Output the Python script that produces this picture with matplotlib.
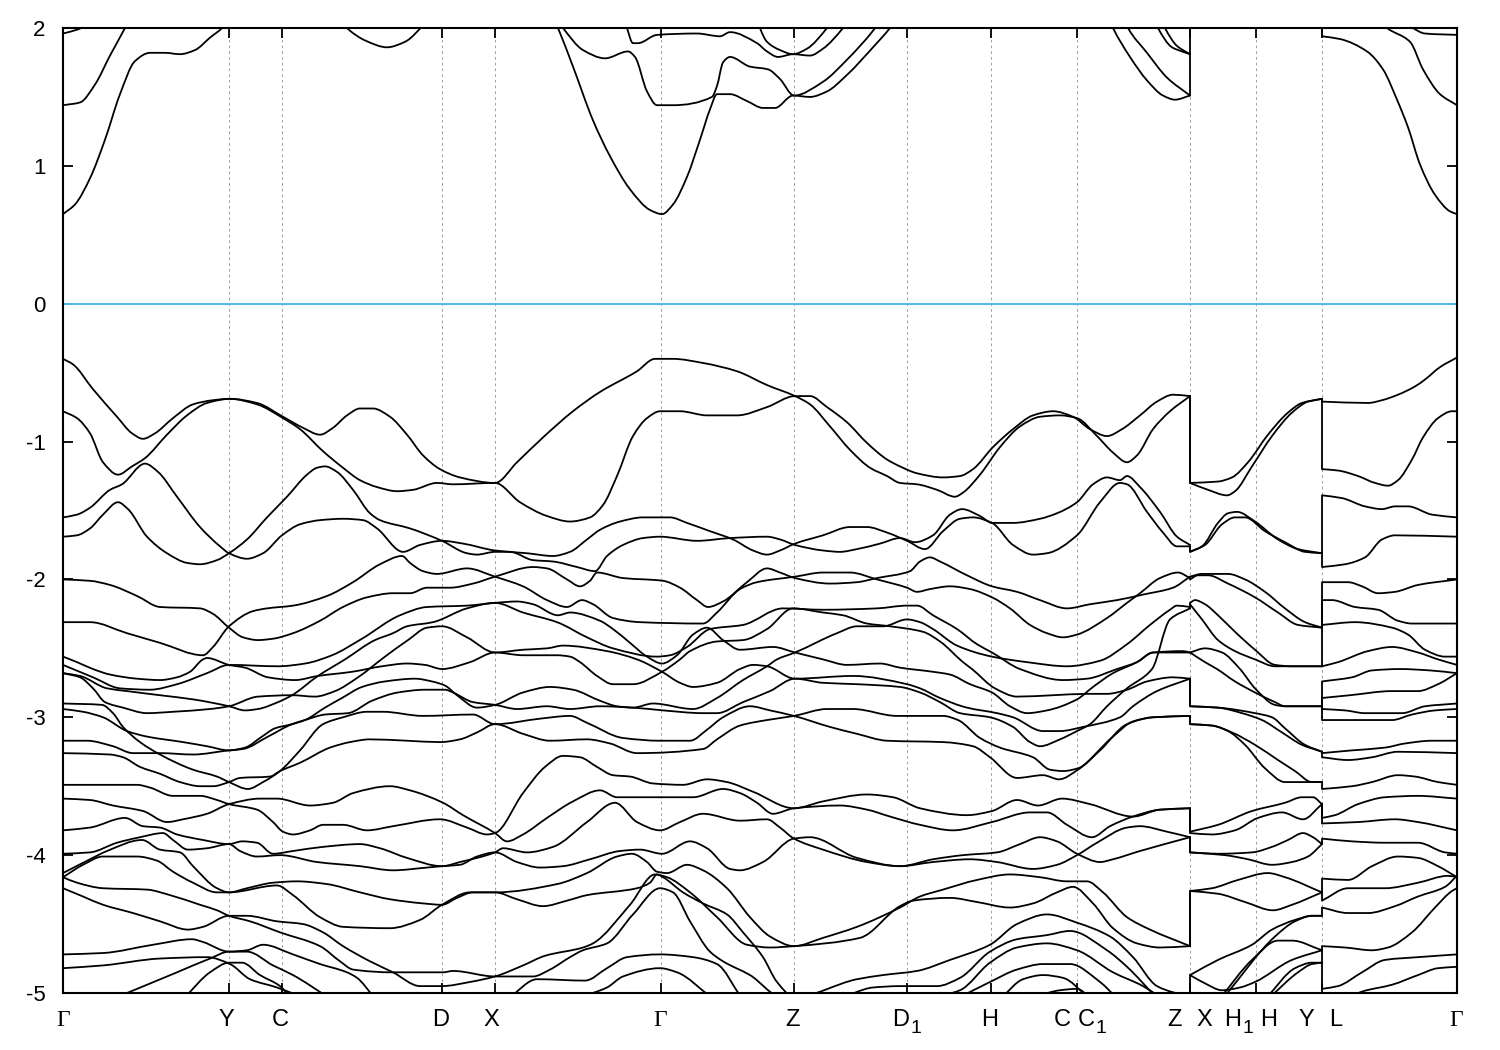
import numpy as np
import matplotlib
matplotlib.use("Agg")
import matplotlib.pyplot as plt
from matplotlib.path import Path
from matplotlib.patches import PathPatch

plt.rcParams['font.family'] = ['Liberation Sans', 'DejaVu Sans']
plt.rcParams['axes.unicode_minus'] = False

# path positions (k) of the high-symmetry points
k_ticks = [229, 282, 442, 495, 661, 794, 907, 991, 1077, 1190, 1256, 1322]
e_ticks = [-5, -4, -3, -2, -1, 0, 1, 2]
k_labels = ['Γ', 'Y', 'C', 'D', 'X', 'Γ', 'Z', 'D', 'H', 'C', 'C', 'Z', 'X', 'H', 'H', 'Y', 'L', 'Γ']
k_subs = ['', '', '', '', '', '', '', '1', '', '', '1', '', '', '1', '', '', '', '']
k_label_pos = [63, 226, 280, 441, 491, 660, 793, 901, 990, 1062, 1086, 1174, 1204, 1233, 1269, 1306, 1336, 1456]

# ---- conduction bands
c01 = [(63,.65),(75,.72),(90,.91),(105,1.19),(120,1.52),(135,1.76),(150,1.82),(165,1.82),(180,1.81),(195,1.84),(210,1.93),(222,2.0),(232,2.1)]
c02 = [(63,1.44),(80,1.46),(95,1.59),(110,1.80),(125,2.0),(132,2.1)]
c03 = [(63,1.96),(78,1.99),(90,2.03)]
c04 = [(340,2.05),(350,1.98),(365,1.91),(387,1.86),(405,1.90),(425,2.03)]
c05 = [(555,2.05),(558,2.0),(573,1.72),(593,1.33),(610,1.07),(630,.83),(650,.68),(662,.65),(673,.72),(687,.92),(700,1.19),(710,1.41),(717,1.52),(730,1.52),(747,1.47),(763,1.42),(775,1.42),(793,1.51),(810,1.50),(827,1.54),(847,1.66),(873,1.86),(890,2.0),(897,2.07)]
c06 = [(558,2.05),(563,2.0),(583,1.84),(605,1.78),(628,1.83),(635,1.79),(647,1.54),(657,1.44),(673,1.44),(712,1.50),(717,1.58),(723,1.75),(730,1.79),(750,1.72),(768,1.70),(780,1.63),(794,1.51),(823,1.61),(847,1.77),(873,1.98),(880,2.05)]
c07 = [(625,2.05),(627,2.0),(633,1.89),(638,1.89),(657,1.95),(697,1.96),(720,1.94),(730,1.97),(757,1.89),(767,1.83),(778,1.79),(793,1.81),(810,1.80),(823,1.85),(843,2.0),(848,2.05)]
c08 = [(758,2.05),(760,2.0),(767,1.90),(780,1.84),(793,1.81),(807,1.85),(827,2.0),(832,2.05)]
c09 = [(1110,2.05),(1113,2.0),(1130,1.79),(1147,1.62),(1163,1.51),(1175,1.48),(1190,1.51),(1190,2.1)]
c10 = [(1125,2.05),(1128,2.0),(1147,1.82),(1167,1.64),(1190,1.51)]
c11 = [(1155,2.05),(1158,2.0),(1172,1.86),(1182,1.83),(1190,1.81)]
c12 = [(1162,2.05),(1165,2.0),(1177,1.87),(1190,1.81)]
c13 = [(1322,2.1),(1322,1.94),(1340,1.92),(1367,1.83),(1383,1.70),(1397,1.48),(1408,1.28),(1420,1.01),(1435,.79),(1450,.67),(1457,.65)]
c14 = [(1380,2.05),(1387,2.0),(1410,1.90),(1423,1.70),(1440,1.52),(1457,1.44)]
c15 = [(1405,2.05),(1413,2.0),(1425,1.96),(1457,1.95)]

# ---- valence bands, Γ-Y-C-D-X-Γ-Z-D1-H-C-C1-Z
v01 = [(63,-.40),(73,-.44),(93,-.62),(117,-.82),(132,-.94),(143,-.98),(155,-.94),(173,-.83),(193,-.73),(213,-.70),(230,-.69),(257,-.72),(283,-.82),(303,-.90),(320,-.95),(333,-.90),(347,-.81),(360,-.76),(373,-.76),(390,-.82),(407,-.95),(423,-1.10),(440,-1.20),(460,-1.26),(495,-1.30),(517,-1.15),(543,-.97),(573,-.78),(600,-.64),(637,-.49),(655,-.40),(673,-.40),(703,-.43),(737,-.49),(767,-.59),(795,-.67),(810,-.73),(830,-.89),(850,-1.06),(870,-1.19),(887,-1.25),(900,-1.30),(917,-1.31),(937,-1.35),(955,-1.40),(963,-1.37),(980,-1.24),(1000,-1.04),(1020,-.89),(1040,-.82),(1060,-.81),(1077,-.83),(1097,-.96),(1113,-1.08),(1127,-1.15),(1137,-1.10),(1153,-.91),(1170,-.78),(1190,-.67)]
v02 = [(63,-.78),(77,-.83),(90,-.94),(103,-1.15),(118,-1.24),(132,-1.18),(145,-1.12),(167,-.95),(187,-.81),(207,-.72),(230,-.69),(257,-.73),(283,-.83),(300,-.91),(323,-1.07),(343,-1.19),(360,-1.28),(377,-1.33),(397,-1.36),(413,-1.35),(437,-1.30),(453,-1.31),(495,-1.30),(520,-1.44),(547,-1.54),(570,-1.58),(590,-1.55),(603,-1.46),(617,-1.25),(633,-.96),(647,-.83),(660,-.78),(680,-.78),(707,-.81),(737,-.81),(767,-.75),(795,-.67),(810,-.67),(827,-.75),(847,-.86),(867,-1.01),(887,-1.13),(900,-1.18),(917,-1.23),(943,-1.26),(960,-1.25),(973,-1.20),(993,-1.04),(1013,-.91),(1033,-.81),(1053,-.78),(1073,-.82),(1090,-.91),(1107,-.96),(1122,-.91),(1140,-.81),(1157,-.71),(1173,-.66),(1190,-.67)]
v03 = [(63,-1.55),(77,-1.53),(90,-1.48),(110,-1.35),(122,-1.31),(145,-1.16),(158,-1.22),(177,-1.40),(200,-1.62),(220,-1.76),(229,-1.81),(247,-1.85),(263,-1.81),(282,-1.68),(300,-1.60),(320,-1.57),(343,-1.56),(363,-1.57),(377,-1.63),(403,-1.80),(420,-1.75),(442,-1.72),(463,-1.74),(495,-1.79),(527,-1.81),(553,-1.83),(570,-1.80),(587,-1.71),(600,-1.64),(620,-1.58),(643,-1.55),(670,-1.55),(687,-1.59),(710,-1.65),(733,-1.71),(753,-1.79),(767,-1.82),(780,-1.79),(795,-1.74),(823,-1.68),(850,-1.62),(867,-1.62),(887,-1.66),(907,-1.72),(925,-1.78),(943,-1.65),(960,-1.56),(973,-1.55),(992,-1.59),(1013,-1.75),(1033,-1.82),(1047,-1.81),(1077,-1.68),(1100,-1.44),(1120,-1.30),(1127,-1.31),(1147,-1.51),(1163,-1.66),(1177,-1.76),(1190,-1.76)]
v04 = [(63,-1.69),(77,-1.68),(90,-1.63),(103,-1.53),(118,-1.44),(128,-1.49),(147,-1.69),(167,-1.81),(187,-1.88),(200,-1.89),(217,-1.86),(229,-1.81),(247,-1.71),(267,-1.55),(287,-1.40),(307,-1.24),(317,-1.19),(325,-1.18),(337,-1.22),(353,-1.35),(370,-1.52),(380,-1.57),(410,-1.63),(442,-1.72),(467,-1.81),(477,-1.82),(495,-1.80),(510,-1.80),(533,-1.86),(553,-1.87),(577,-1.91),(595,-1.94),(607,-1.83),(623,-1.75),(643,-1.70),(660,-1.69),(697,-1.72),(730,-1.70),(767,-1.69),(780,-1.71),(795,-1.75),(823,-1.79),(840,-1.80),(857,-1.78),(880,-1.74),(900,-1.70),(915,-1.73),(933,-1.68),(950,-1.53),(962,-1.49),(980,-1.54),(992,-1.59),(1013,-1.59),(1040,-1.56),(1057,-1.52),(1077,-1.44),(1093,-1.31),(1107,-1.26),(1120,-1.28),(1127,-1.25),(1140,-1.33),(1160,-1.51),(1177,-1.69),(1190,-1.75)]
v05 = [(63,-2.00),(90,-2.01),(110,-2.04),(137,-2.12),(160,-2.20),(200,-2.21),(213,-2.25),(229,-2.35),(243,-2.42),(258,-2.44),(273,-2.43),(293,-2.39),(320,-2.30),(343,-2.20),(367,-2.13),(393,-2.10),(410,-2.10),(427,-2.06),(450,-2.06),(473,-2.03),(495,-1.98),(533,-1.91),(547,-1.92),(567,-2.00),(580,-2.05),(590,-2.01),(597,-1.95),(623,-1.99),(663,-2.01),(680,-2.06),(697,-2.15),(708,-2.20),(723,-2.16),(747,-2.02),(767,-1.92),(780,-1.95),(795,-1.99),(830,-2.03),(857,-2.02),(877,-1.99),(910,-1.94),(920,-1.87),(930,-1.84),(940,-1.87),(967,-1.97),(992,-2.05),(1017,-2.09),(1040,-2.15),(1067,-2.21),(1090,-2.18),(1117,-2.15),(1143,-2.11),(1173,-2.06),(1190,-1.98)]
v06 = [(63,-2.31),(90,-2.31),(127,-2.39),(160,-2.46),(203,-2.55),(213,-2.49),(229,-2.34),(253,-2.23),(267,-2.21),(293,-2.19),(327,-2.12),(353,-2.02),(380,-1.89),(402,-1.83),(410,-1.88),(423,-1.94),(437,-1.96),(467,-1.92),(495,-1.98),(523,-2.05),(547,-2.15),(567,-2.20),(582,-2.15),(593,-2.18),(613,-2.28),(640,-2.31),(703,-2.32),(717,-2.24),(740,-2.07),(757,-2.02),(795,-1.98),(823,-1.95),(850,-1.95),(877,-2.00),(907,-2.06),(917,-2.09),(930,-2.07),(950,-2.05),(970,-2.07),(992,-2.13),(1010,-2.21),(1030,-2.33),(1047,-2.39),(1063,-2.42),(1077,-2.40),(1107,-2.28),(1127,-2.17),(1140,-2.10),(1160,-1.99),(1178,-1.95),(1190,-1.99)]
v07 = [(63,-2.56),(77,-2.60),(93,-2.65),(110,-2.69),(137,-2.72),(160,-2.73),(177,-2.71),(190,-2.67),(203,-2.58),(207,-2.57),(229,-2.62),(245,-2.64),(268,-2.71),(295,-2.73),(318,-2.70),(352,-2.67),(382,-2.63),(407,-2.61),(425,-2.62),(442,-2.65),(470,-2.60),(495,-2.53),(523,-2.55),(557,-2.55),(570,-2.56),(580,-2.60),(597,-2.70),(613,-2.76),(633,-2.76),(662,-2.67),(680,-2.58),(690,-2.52),(717,-2.45),(743,-2.44),(767,-2.36),(793,-2.21),(823,-2.24),(843,-2.26),(867,-2.32),(890,-2.34),(923,-2.38),(940,-2.45),(963,-2.60),(972,-2.65),(995,-2.79),(1017,-2.85),(1053,-2.84),(1087,-2.83),(1107,-2.83),(1127,-2.80),(1147,-2.74),(1173,-2.71),(1190,-2.72)]
v08 = [(63,-2.62),(93,-2.71),(120,-2.79),(150,-2.80),(177,-2.76),(207,-2.68),(229,-2.62),(278,-2.63),(305,-2.61),(332,-2.55),(362,-2.43),(400,-2.26),(427,-2.20),(467,-2.19),(495,-2.17),(517,-2.16),(533,-2.18),(558,-2.26),(570,-2.24),(600,-2.30),(613,-2.36),(630,-2.46),(647,-2.56),(662,-2.61),(677,-2.55),(693,-2.40),(707,-2.35),(723,-2.44),(740,-2.51),(773,-2.49),(795,-2.53),(823,-2.58),(847,-2.62),(880,-2.61),(900,-2.64),(933,-2.67),(950,-2.69),(970,-2.76),(992,-2.82),(1010,-2.92),(1027,-2.97),(1047,-2.95),(1077,-2.87),(1093,-2.78),(1113,-2.68),(1137,-2.60),(1153,-2.53),(1183,-2.52),(1190,-2.53)]
v09 = [(63,-2.68),(80,-2.70),(107,-2.79),(127,-2.81),(160,-2.84),(193,-2.87),(229,-2.92),(245,-2.95),(258,-2.94),(278,-2.89),(292,-2.84),(318,-2.70),(345,-2.58),(375,-2.44),(393,-2.39),(407,-2.34),(433,-2.31),(467,-2.21),(495,-2.17),(523,-2.24),(557,-2.31),(587,-2.42),(613,-2.50),(657,-2.56),(670,-2.55),(687,-2.49),(710,-2.36),(743,-2.33),(783,-2.21),(823,-2.22),(877,-2.21),(907,-2.19),(917,-2.19),(933,-2.26),(957,-2.36),(977,-2.47),(992,-2.53),(1020,-2.65),(1063,-2.73),(1087,-2.72),(1117,-2.65),(1137,-2.60),(1153,-2.53),(1190,-2.53)]
v10 = [(63,-2.68),(80,-2.71),(93,-2.79),(105,-2.89),(123,-2.93),(147,-2.97),(173,-2.96),(210,-2.94),(229,-2.92),(258,-2.85),(292,-2.84),(315,-2.85),(335,-2.81),(358,-2.71),(385,-2.56),(408,-2.44),(427,-2.35),(442,-2.34),(467,-2.42),(495,-2.53),(523,-2.51),(547,-2.50),(563,-2.48),(607,-2.52),(637,-2.58),(662,-2.67),(680,-2.75),(693,-2.78),(717,-2.75),(740,-2.65),(753,-2.62),(767,-2.63),(795,-2.72),(853,-2.70),(907,-2.76),(920,-2.79),(940,-2.86),(967,-2.93),(997,-2.97),(1013,-3.00),(1043,-3.10),(1060,-3.10),(1083,-3.07),(1120,-3.00),(1133,-2.92),(1157,-2.81),(1190,-2.72)]
v11 = [(63,-2.94),(83,-2.96),(103,-3.00),(127,-3.10),(147,-3.14),(183,-3.18),(207,-3.21),(229,-3.24),(245,-3.22),(262,-3.14),(275,-3.08),(292,-3.05),(305,-3.02),(325,-2.93),(342,-2.86),(362,-2.78),(385,-2.74),(415,-2.72),(432,-2.74),(445,-2.77),(457,-2.84),(477,-2.93),(495,-2.91),(523,-2.82),(550,-2.78),(573,-2.80),(600,-2.88),(617,-2.92),(633,-2.93),(653,-2.90),(693,-2.94),(717,-2.86),(743,-2.73),(767,-2.63),(777,-2.58),(795,-2.53),(837,-2.39),(857,-2.34),(883,-2.34),(907,-2.29),(920,-2.31),(933,-2.36),(957,-2.48),(992,-2.56),(1027,-2.60),(1067,-2.63),(1100,-2.59),(1127,-2.47),(1150,-2.33),(1170,-2.22),(1177,-2.19),(1190,-2.20)]
v12 = [(63,-3.17),(87,-3.17),(113,-3.21),(133,-3.26),(160,-3.26),(193,-3.27),(229,-3.24),(243,-3.23),(268,-3.14),(292,-3.05),(305,-3.02),(325,-2.98),(348,-2.97),(372,-2.88),(398,-2.82),(425,-2.80),(445,-2.80),(453,-2.82),(473,-2.89),(495,-2.91),(517,-2.94),(547,-2.92),(570,-2.94),(600,-2.92),(633,-2.93),(663,-2.95),(703,-2.97),(717,-2.97),(743,-2.89),(770,-2.81),(795,-2.72),(823,-2.75),(857,-2.76),(900,-2.78),(920,-2.82),(940,-2.89),(960,-2.97),(990,-3.00),(1013,-3.07),(1030,-3.18),(1040,-3.21),(1060,-3.16),(1077,-3.10),(1090,-3.05),(1107,-2.92),(1127,-2.79),(1152,-2.65),(1170,-2.29),(1190,-2.21)]
v13 = [(63,-2.90),(102,-2.91),(113,-2.97),(123,-3.07),(140,-3.18),(160,-3.27),(193,-3.38),(217,-3.43),(229,-3.47),(248,-3.52),(263,-3.47),(280,-3.39),(300,-3.24),(323,-3.05),(343,-3.00),(367,-2.96),(383,-2.96),(423,-2.99),(473,-2.98),(495,-3.05),(540,-3.01),(570,-2.99),(587,-3.04),(623,-3.15),(660,-3.17),(690,-3.17),(707,-3.09),(723,-3.00),(750,-2.92),(770,-2.95),(794,-2.99),(830,-3.07),(857,-3.12),(887,-3.17),(943,-3.18),(973,-3.21),(990,-3.29),(1017,-3.44),(1043,-3.42),(1059,-3.45),(1078,-3.38),(1113,-3.14),(1133,-3.03),(1153,-3.00),(1190,-2.99)]
v14 = [(63,-3.26),(110,-3.27),(123,-3.29),(140,-3.36),(160,-3.41),(180,-3.47),(200,-3.50),(213,-3.50),(229,-3.47),(240,-3.44),(270,-3.43),(280,-3.39),(300,-3.33),(330,-3.22),(350,-3.18),(370,-3.16),(407,-3.17),(440,-3.18),(460,-3.16),(477,-3.11),(495,-3.05),(523,-3.12),(550,-3.17),(587,-3.16),(610,-3.19),(637,-3.26),(703,-3.23),(717,-3.16),(740,-3.06),(767,-3.02),(794,-2.99),(827,-2.94),(853,-2.94),(897,-2.99),(943,-2.99),(958,-3.02),(980,-3.15),(1000,-3.22),(1033,-3.29),(1050,-3.38),(1063,-3.39),(1078,-3.37),(1100,-3.24),(1127,-3.05),(1153,-3.00),(1190,-2.99)]
v15 = [(63,-3.49),(137,-3.49),(150,-3.51),(173,-3.57),(200,-3.57),(217,-3.60),(229,-3.63),(257,-3.67),(273,-3.76),(283,-3.83),(293,-3.85),(310,-3.82),(323,-3.78),(343,-3.78),(367,-3.82),(393,-3.79),(440,-3.74),(467,-3.80),(487,-3.85),(495,-3.84),(523,-3.55),(545,-3.36),(563,-3.28),(580,-3.29),(597,-3.36),(613,-3.42),(630,-3.43),(653,-3.48),(683,-3.49),(707,-3.45),(727,-3.47),(753,-3.54),(794,-3.66),(823,-3.61),(867,-3.56),(893,-3.58),(920,-3.66),(967,-3.71),(992,-3.68),(1017,-3.60),(1038,-3.64),(1062,-3.59),(1090,-3.63),(1133,-3.72),(1160,-3.67),(1190,-3.66)]
v16 = [(63,-3.59),(90,-3.60),(113,-3.64),(143,-3.68),(167,-3.76),(183,-3.74),(207,-3.70),(229,-3.63),(260,-3.59),(277,-3.59),(310,-3.64),(333,-3.62),(353,-3.55),(390,-3.50),(410,-3.53),(443,-3.62),(463,-3.71),(495,-3.84),(507,-3.90),(523,-3.85),(547,-3.73),(573,-3.61),(600,-3.53),(617,-3.58),(660,-3.58),(693,-3.58),(723,-3.52),(740,-3.55),(757,-3.62),(773,-3.70),(794,-3.66),(840,-3.64),(867,-3.67),(890,-3.72),(920,-3.78),(953,-3.82),(992,-3.76),(1030,-3.69),(1047,-3.69),(1067,-3.78),(1092,-3.87),(1110,-3.79),(1133,-3.72),(1160,-3.67),(1190,-3.66)]
v17 = [(63,-3.82),(90,-3.80),(125,-3.73),(143,-3.79),(160,-3.80),(177,-3.85),(203,-3.89),(229,-3.92),(242,-3.90),(257,-3.91),(273,-3.99),(293,-3.97),(323,-3.94),(360,-3.92),(380,-3.95),(407,-4.02),(442,-4.08),(460,-4.05),(495,-3.98),(503,-3.95),(527,-3.98),(553,-3.94),(587,-3.76),(615,-3.62),(637,-3.76),(660,-3.82),(680,-3.76),(703,-3.70),(740,-3.75),(767,-3.74),(780,-3.80),(794,-3.88),(823,-3.96),(867,-4.05),(900,-4.08),(933,-4.03),(963,-4.00),(997,-3.98),(1020,-3.92),(1040,-3.87),(1057,-3.90),(1077,-3.99),(1100,-4.05),(1113,-4.03),(1140,-3.97),(1190,-3.87)]
v18 = [(63,-3.99),(90,-3.98),(117,-3.91),(140,-3.87),(163,-3.84),(173,-3.89),(188,-3.96),(207,-3.95),(229,-3.92),(240,-3.97),(257,-4.01),(280,-4.00),(317,-4.05),(360,-4.08),(393,-4.11),(427,-4.09),(442,-4.08),(460,-4.07),(477,-4.01),(495,-3.98),(517,-4.05),(540,-4.09),(563,-4.08),(590,-4.03),(620,-3.97),(640,-3.96),(662,-3.99),(690,-3.90),(707,-3.95),(730,-4.10),(740,-4.11),(763,-4.05),(794,-3.88),(810,-3.87),(857,-4.02),(900,-4.08),(933,-4.05),(970,-4.03),(997,-4.05),(1033,-4.10),(1057,-4.07),(1077,-4.00),(1097,-3.91),(1127,-3.80),(1140,-3.79),(1167,-3.83),(1190,-3.87)]
v19 = [(63,-4.13),(90,-4.03),(107,-3.97),(142,-3.89),(160,-3.96),(180,-3.98),(193,-4.08),(217,-4.24),(229,-4.27),(247,-4.24),(273,-4.20),(297,-4.19),(327,-4.21),(360,-4.27),(390,-4.32),(423,-4.35),(442,-4.36),(457,-4.31),(473,-4.27),(495,-4.27),(557,-4.21),(587,-4.13),(617,-4.01),(632,-3.99),(647,-4.05),(657,-4.12),(667,-4.13),(687,-4.07),(703,-4.11),(727,-4.24),(750,-4.45),(770,-4.59),(794,-4.66),(823,-4.60),(857,-4.52),(900,-4.38),(920,-4.30),(943,-4.25),(977,-4.18),(1010,-4.14),(1040,-4.16),(1067,-4.19),(1087,-4.19),(1103,-4.27),(1127,-4.45),(1150,-4.54),(1190,-4.66)]
v20 = [(63,-4.16),(83,-4.07),(103,-4.01),(137,-4.01),(157,-4.04),(173,-4.12),(193,-4.20),(217,-4.27),(229,-4.27),(277,-4.22),(293,-4.29),(320,-4.45),(343,-4.52),(390,-4.53),(420,-4.47),(442,-4.36),(470,-4.27),(495,-4.27),(517,-4.32),(543,-4.37),(567,-4.33),(587,-4.29),(637,-4.24),(650,-4.20),(657,-4.14),(663,-4.16),(683,-4.27),(703,-4.35),(727,-4.43),(743,-4.56),(763,-4.74),(777,-4.92),(794,-5.03),(857,-4.90),(883,-4.87),(917,-4.84),(950,-4.76),(990,-4.65),(1017,-4.50),(1047,-4.43),(1077,-4.49),(1110,-4.59),(1133,-4.74),(1157,-4.95),(1190,-5.03)]
v21 = [(63,-4.24),(83,-4.30),(103,-4.36),(133,-4.42),(160,-4.48),(188,-4.54),(203,-4.52),(229,-4.44),(247,-4.44),(277,-4.48),(303,-4.50),(323,-4.56),(343,-4.66),(370,-4.77),(393,-4.85),(420,-4.95),(442,-4.95),(470,-4.92),(495,-4.88),(523,-4.80),(545,-4.73),(583,-4.67),(593,-4.64),(630,-4.36),(655,-4.14),(667,-4.16),(690,-4.27),(717,-4.45),(747,-4.65),(770,-4.67),(794,-4.66),(860,-4.60),(900,-4.37),(913,-4.33),(950,-4.31),(977,-4.34),(1010,-4.38),(1033,-4.35),(1057,-4.27),(1073,-4.23),(1093,-4.35),(1113,-4.53),(1137,-4.64),(1160,-4.67),(1190,-4.66)]
v22 = [(63,-4.16),(77,-4.20),(103,-4.24),(147,-4.25),(170,-4.29),(200,-4.36),(217,-4.40),(229,-4.44),(250,-4.48),(280,-4.56),(320,-4.66),(340,-4.77),(353,-4.83),(393,-4.85),(443,-4.85),(453,-4.84),(495,-4.88),(533,-4.88),(550,-4.83),(570,-4.74),(583,-4.69),(607,-4.64),(633,-4.43),(660,-4.24),(673,-4.27),(690,-4.48),(710,-4.70),(723,-4.77),(750,-4.87),(782,-5.03),(837,-5.03),(873,-4.96),(900,-4.95),(937,-4.95),(960,-4.89),(990,-4.70),(1017,-4.61),(1047,-4.58),(1070,-4.55),(1107,-4.69),(1127,-4.81),(1156,-5.03)]
v23 = [(63,-4.72),(103,-4.71),(153,-4.65),(192,-4.61),(203,-4.63),(229,-4.70),(247,-4.69),(263,-4.65),(293,-4.72),(320,-4.79),(347,-4.85),(357,-4.89),(374,-5.03)]
v24 = [(63,-4.82),(103,-4.80),(160,-4.75),(207,-4.74),(230,-4.79),(250,-4.90),(277,-4.96),(302,-5.03)]
v25 = [(117,-5.03),(177,-4.85),(210,-4.75),(229,-4.70),(247,-4.70),(273,-4.80),(293,-4.87),(328,-5.03)]
v26 = [(185,-5.03),(210,-4.85),(229,-4.78),(242,-4.78),(260,-4.87),(280,-4.95),(290,-5.03)]
v27 = [(510,-5.03),(537,-4.90),(585,-4.91),(607,-4.82),(627,-4.74),(660,-4.72),(693,-4.74),(717,-4.79),(741,-5.03)]
v28 = [(580,-5.03),(607,-4.96),(623,-4.88),(660,-4.82),(677,-4.85),(711,-5.03)]
v29 = [(935,-5.03),(960,-4.98),(990,-4.78),(1017,-4.67),(1047,-4.64),(1077,-4.69),(1113,-4.85),(1143,-4.95),(1160,-5.03)]
v30 = [(960,-5.03),(990,-4.92),(1017,-4.83),(1043,-4.79),(1070,-4.79),(1100,-4.92),(1116,-5.03)]
v31 = [(1002,-5.03),(1023,-4.90),(1043,-4.87),(1063,-4.89),(1088,-5.03)]
v32 = [(1034,-5.03),(1060,-4.98),(1077,-4.97),(1090,-5.03)]

# ---- Z|X-H1-H-Y
x01 = [(1190,-.67),(1190,-1.30),(1218,-1.29),(1232,-1.26),(1248,-1.15),(1268,-.95),(1288,-.79),(1302,-.72),(1322,-.69)]
x02 = [(1190,-.67),(1190,-1.30),(1208,-1.35),(1227,-1.39),(1235,-1.36),(1252,-1.18),(1272,-.96),(1292,-.79),(1308,-.71),(1322,-.69)]
x03 = [(1190,-1.76),(1190,-1.80),(1202,-1.76),(1218,-1.59),(1228,-1.52),(1237,-1.51),(1255,-1.58),(1278,-1.71),(1298,-1.78),(1322,-1.81)]
x04 = [(1190,-1.76),(1190,-1.80),(1205,-1.75),(1222,-1.60),(1235,-1.55),(1245,-1.55),(1265,-1.65),(1285,-1.73),(1305,-1.80),(1322,-1.81)]
x05 = [(1190,-1.98),(1202,-1.96),(1228,-1.96),(1245,-2.00),(1265,-2.09),(1285,-2.21),(1305,-2.31),(1322,-2.35)]
x06 = [(1190,-1.99),(1190,-2.00),(1198,-1.97),(1208,-1.97),(1228,-2.03),(1255,-2.13),(1278,-2.24),(1298,-2.33),(1322,-2.35)]
x07 = [(1190,-2.20),(1190,-2.17),(1195,-2.15),(1205,-2.18),(1218,-2.26),(1235,-2.38),(1255,-2.51),(1275,-2.62),(1292,-2.63),(1322,-2.63)]
x08 = [(1190,-2.21),(1190,-2.18),(1202,-2.29),(1218,-2.44),(1235,-2.52),(1255,-2.58),(1275,-2.63),(1322,-2.63)]
x09 = [(1190,-2.53),(1205,-2.50),(1222,-2.53),(1240,-2.65),(1255,-2.79),(1275,-2.91),(1285,-2.92),(1322,-2.92)]
x10 = [(1190,-2.53),(1205,-2.60),(1217,-2.65),(1235,-2.74),(1255,-2.82),(1275,-2.89),(1285,-2.92),(1322,-2.92)]
x11 = [(1190,-2.72),(1190,-2.92),(1218,-2.93),(1255,-2.97),(1272,-3.00),(1285,-3.08),(1305,-3.20),(1322,-3.25)]
x12 = [(1190,-2.72),(1190,-2.92),(1218,-2.93),(1242,-2.97),(1262,-3.02),(1282,-3.11),(1302,-3.20),(1322,-3.25)]
x13 = [(1190,-2.99),(1190,-3.05),(1212,-3.06),(1228,-3.10),(1245,-3.20),(1265,-3.37),(1285,-3.47),(1305,-3.47),(1322,-3.47)]
x14 = [(1190,-2.99),(1190,-3.05),(1212,-3.06),(1232,-3.11),(1255,-3.20),(1278,-3.31),(1295,-3.39),(1312,-3.47),(1322,-3.47)]
x15 = [(1190,-3.66),(1190,-3.83),(1218,-3.78),(1252,-3.68),(1285,-3.62),(1302,-3.58),(1313,-3.58),(1322,-3.63)]
x16 = [(1190,-3.66),(1190,-3.84),(1212,-3.85),(1235,-3.82),(1258,-3.73),(1282,-3.69),(1303,-3.74),(1322,-3.63)]
x17 = [(1190,-3.87),(1190,-3.98),(1218,-3.99),(1252,-3.98),(1272,-3.94),(1288,-3.89),(1303,-3.84),(1313,-3.87),(1322,-3.92)]
x18 = [(1190,-3.87),(1190,-3.98),(1225,-4.00),(1248,-4.03),(1272,-4.07),(1292,-4.05),(1308,-4.01),(1322,-3.92)]
x19 = [(1190,-4.66),(1190,-4.26),(1212,-4.24),(1238,-4.18),(1268,-4.13),(1285,-4.16),(1322,-4.27)]
x20 = [(1190,-4.66),(1190,-4.26),(1218,-4.28),(1245,-4.34),(1273,-4.40),(1292,-4.36),(1322,-4.27)]
x21 = [(1190,-5.03),(1190,-4.87),(1218,-4.76),(1252,-4.65),(1272,-4.54),(1295,-4.47),(1312,-4.44),(1322,-4.44)]
x22 = [(1190,-4.87),(1205,-4.93),(1222,-4.98),(1240,-4.96),(1255,-4.92),(1292,-4.76),(1322,-4.69)]
x23 = [(1221,-5.03),(1252,-4.76),(1278,-4.62),(1292,-4.62),(1322,-4.69)]
x24 = [(1224,-5.03),(1275,-4.59),(1295,-4.48),(1312,-4.44),(1322,-4.44)]
x25 = [(1267,-5.03),(1295,-4.82),(1312,-4.78),(1322,-4.78)]
x26 = [(1270,-5.03),(1298,-4.85),(1312,-4.79),(1322,-4.78)]

# ---- Y|L-Γ
l01 = [(1322,-.69),(1322,-.71),(1368,-.72),(1382,-.70),(1398,-.66),(1415,-.60),(1425,-.55),(1440,-.46),(1457,-.39)]
l02 = [(1322,-.69),(1322,-1.20),(1338,-1.21),(1358,-1.25),(1375,-1.30),(1388,-1.32),(1398,-1.28),(1412,-1.13),(1423,-.97),(1438,-.83),(1452,-.78),(1457,-.78)]
l03 = [(1322,-1.81),(1322,-1.39),(1342,-1.41),(1365,-1.47),(1382,-1.49),(1395,-1.47),(1408,-1.47),(1432,-1.53),(1457,-1.55)]
l04 = [(1322,-1.81),(1322,-1.91),(1345,-1.89),(1365,-1.84),(1382,-1.71),(1395,-1.68),(1457,-1.69)]
l05 = [(1322,-2.35),(1322,-2.02),(1348,-2.02),(1362,-2.05),(1378,-2.10),(1395,-2.09),(1418,-2.04),(1457,-2.00)]
l06 = [(1322,-2.35),(1322,-2.15),(1332,-2.15),(1355,-2.20),(1378,-2.22),(1398,-2.30),(1412,-2.32),(1457,-2.32)]
l07 = [(1322,-2.63),(1322,-2.33),(1355,-2.31),(1392,-2.35),(1408,-2.40),(1425,-2.51),(1445,-2.56),(1457,-2.56)]
l08 = [(1322,-2.63),(1338,-2.60),(1368,-2.52),(1392,-2.49),(1418,-2.53),(1438,-2.58),(1457,-2.62)]
l09 = [(1322,-2.92),(1322,-2.74),(1352,-2.71),(1372,-2.66),(1400,-2.65),(1430,-2.66),(1457,-2.68)]
l10 = [(1322,-2.92),(1322,-2.86),(1350,-2.84),(1392,-2.81),(1418,-2.81),(1438,-2.76),(1457,-2.68)]
l11 = [(1322,-2.92),(1322,-2.94),(1345,-2.95),(1365,-2.97),(1385,-2.97),(1402,-2.97),(1425,-2.92),(1457,-2.90)]
l12 = [(1322,-2.92),(1322,-3.02),(1392,-3.02),(1412,-2.98),(1435,-2.95),(1457,-2.94)]
l13 = [(1322,-3.25),(1322,-3.26),(1352,-3.24),(1385,-3.22),(1405,-3.19),(1432,-3.17),(1457,-3.17)]
l14 = [(1322,-3.25),(1322,-3.29),(1348,-3.31),(1372,-3.29),(1398,-3.25),(1457,-3.26)]
l15 = [(1322,-3.47),(1322,-3.52),(1352,-3.50),(1372,-3.47),(1398,-3.42),(1415,-3.43),(1438,-3.47),(1457,-3.49)]
l16 = [(1322,-3.63),(1322,-3.73),(1335,-3.71),(1358,-3.63),(1385,-3.58),(1418,-3.57),(1457,-3.59)]
l17 = [(1322,-3.63),(1322,-3.77),(1358,-3.76),(1395,-3.74),(1418,-3.76),(1457,-3.82)]
l18 = [(1322,-3.92),(1322,-3.88),(1352,-3.90),(1385,-3.91),(1418,-3.91),(1445,-3.98),(1457,-3.99)]
l19 = [(1322,-4.27),(1322,-4.17),(1348,-4.18),(1372,-4.08),(1398,-4.01),(1418,-4.02),(1438,-4.08),(1457,-4.16)]
l20 = [(1322,-4.27),(1322,-4.33),(1348,-4.24),(1385,-4.24),(1418,-4.20),(1448,-4.15),(1457,-4.16)]
l21 = [(1322,-4.44),(1322,-4.38),(1348,-4.42),(1368,-4.42),(1395,-4.37),(1418,-4.30),(1445,-4.23),(1457,-4.15)]
l22 = [(1322,-4.69),(1322,-4.66),(1345,-4.67),(1372,-4.69),(1388,-4.67),(1412,-4.56),(1435,-4.38),(1452,-4.26),(1457,-4.24)]
l23 = [(1322,-4.69),(1322,-4.97),(1338,-4.95),(1362,-4.85),(1385,-4.76),(1418,-4.74),(1457,-4.72)]
l24 = [(1350,-5.03),(1362,-4.99),(1392,-4.94),(1418,-4.87),(1438,-4.82),(1457,-4.81)]

bands = [c01,c02,c03,c04,c05,c06,c07,c08,c09,c10,c11,c12,c13,c14,c15,
         v01,v02,v03,v04,v05,v06,v07,v08,v09,v10,v11,v12,v13,v14,v15,v16,
         v17,v18,v19,v20,v21,v22,v23,v24,v25,v26,v27,v28,v29,v30,v31,v32,
         x01,x02,x03,x04,x05,x06,x07,x08,x09,x10,x11,x12,x13,x14,x15,x16,
         x17,x18,x19,x20,x21,x22,x23,x24,x25,x26,
         l01,l02,l03,l04,l05,l06,l07,l08,l09,l10,l11,l12,l13,l14,l15,l16,
         l17,l18,l19,l20,l21,l22,l23,l24]


def band_path(band):
    """Bezier path through the read points (straight at the vertical jumps)."""
    pts = np.array(band, dtype=float)
    cuts = np.where(np.diff(pts[:, 0]) == 0)[0] + 1
    verts, codes = [], []
    for run in np.split(pts, cuts):
        verts.append(run[0])
        codes.append(Path.LINETO if codes else Path.MOVETO)
        if len(run) < 2:
            continue
        h = np.diff(run[:, 0])
        d = np.diff(run[:, 1]) / h
        m = np.empty(len(run))
        m[0], m[-1] = d[0], d[-1]
        for i in range(1, len(run) - 1):
            if d[i - 1] * d[i] <= 0:
                m[i] = 0.0
            else:
                w1, w2 = 2 * h[i] + h[i - 1], h[i] + 2 * h[i - 1]
                m[i] = (w1 + w2) / (w1 / d[i - 1] + w2 / d[i])
        for i in range(len(run) - 1):
            verts.append((run[i, 0] + h[i] / 3, run[i, 1] + m[i] * h[i] / 3))
            verts.append((run[i + 1, 0] - h[i] / 3, run[i + 1, 1] - m[i + 1] * h[i] / 3))
            verts.append(run[i + 1])
            codes += [Path.CURVE4] * 3
    return Path(np.array(verts), codes)


fig = plt.figure(figsize=(15, 10.5), dpi=100, facecolor='white')
ax = fig.add_axes([63/1500, (1050-993)/1050, 1394/1500, 965/1050])
ax.set_xlim(63, 1457)
ax.set_ylim(-5, 2)

for k in k_ticks:
    ax.axvline(k, color='#a0a0a0', lw=0.75, dashes=(2.5, 3), zorder=1)
ax.axhline(0, color='#56b4e9', lw=1.4, zorder=2)

for b in bands:
    ax.add_patch(PathPatch(band_path(b), fill=False, edgecolor='black', lw=1.3,
                           joinstyle='round', capstyle='round', zorder=3))

ax.set_xticks(k_ticks)
ax.set_xticklabels([])
ax.set_yticks(e_ticks)
ax.tick_params(axis='both', direction='in', length=7, width=1.3, top=True, right=True)
ax.tick_params(axis='y', labelsize=16, pad=12.5)
for s in ax.spines.values():
    s.set_linewidth(1.5)

trans = ax.get_xaxis_transform()
for name, sub, k in zip(k_labels, k_subs, k_label_pos):
    fam = ['Liberation Serif'] if name == 'Γ' else ['Liberation Sans']
    ax.text(k, -0.028, name, transform=trans, ha='center', va='center',
            fontsize=17, family=fam, clip_on=False)
    if sub:
        ax.text(k + 15, -0.037, sub, transform=trans, ha='center', va='center',
                fontsize=14, clip_on=False)

fig.savefig('out.png', dpi=100)
